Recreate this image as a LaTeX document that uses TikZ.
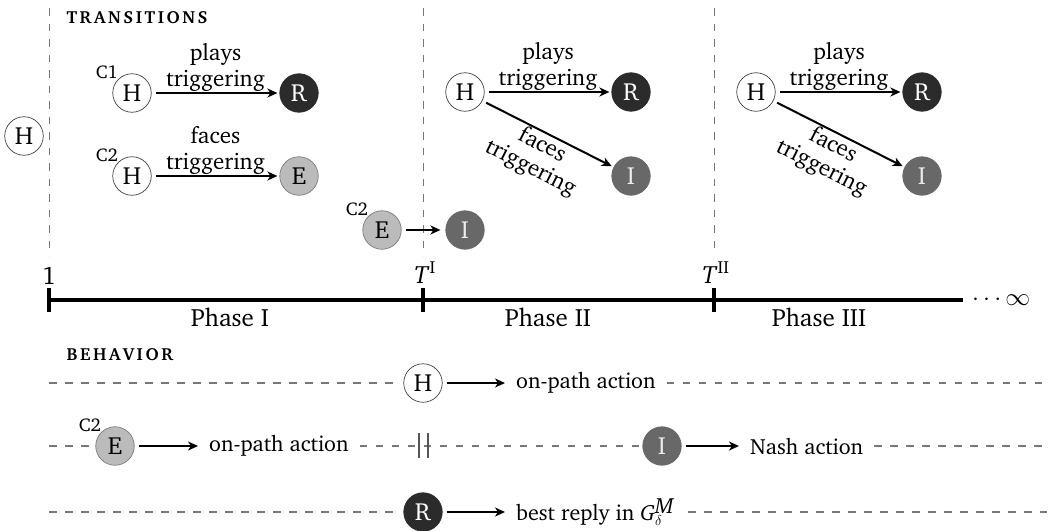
\documentclass[tikz,border=0pt]{standalone}
\usepackage[T1]{fontenc}
\usepackage{charter}
\usetikzlibrary{arrows.meta,calc}

\makeatletter
% letter-spaced capitals for the section headings
\newcommand\spacedcaps[1]{\@tfor\sc@ltr:=#1\do{\sc@ltr\kern2.6pt}}
\makeatother

\newcommand\axissize{\fontsize{25pt}{30pt}\selectfont}
\newcommand\edgesize{\fontsize{23pt}{25.5pt}\selectfont}
\newcommand\outsize{\fontsize{22pt}{26pt}\selectfont}
\newcommand\nodesize{\fontsize{24.8pt}{28pt}\selectfont}
\newcommand\tagsize{\fontsize{18.5pt}{20pt}\selectfont}
\newcommand\headsize{\fontsize{17.5pt}{20pt}\selectfont\bfseries}

\definecolor{rfill}{HTML}{2B2B2B}
\definecolor{ifill}{HTML}{686868}
\definecolor{efill}{HTML}{BBBBBB}
\definecolor{eedge}{HTML}{7A7A7A}
\definecolor{guide}{HTML}{777777}
\definecolor{barcol}{HTML}{555555}

\tikzset{
  agent/.style={circle, minimum size=38.5pt, inner sep=0pt, line width=0.7pt, font=\nodesize},
  hstate/.style={agent, draw=black!75, fill=white},
  rstate/.style={agent, draw=rfill, fill=rfill, text=white},
  istate/.style={agent, draw=ifill, fill=ifill, text=white!92!black},
  estate/.style={agent, draw=eedge, fill=efill},
  cohort/.style={label={[font=\tagsize, inner sep=0pt]135:#1}},
  move/.style={-{Stealth[length=10pt,width=9pt,inset=3pt]}, line width=2pt,
               shorten <=4pt, shorten >=2pt},
  vguide/.style={guide, line width=0.9pt, dash pattern=on 7.5pt off 8pt},
  hguide/.style={guide, line width=1.4pt, dash pattern=on 7.5pt off 8.5pt},
  axisline/.style={line width=3.8pt},
  phaselabel/.style={anchor=base, font=\axissize},
  heading/.style={anchor=west, font=\headsize},
  outcome/.style={anchor=west, inner sep=5pt, font=\outsize},
  edgetext/.style={align=center, font=\edgesize, inner sep=1pt},
}

\begin{document}
\begin{tikzpicture}[x=1pt,y=-1pt]
\useasboundingbox (0,0) rectangle (1056,530);

% ---- section headings
\node[heading] (hTr) at (63,18) {\spacedcaps{TRANSITIONS}};
\node[heading] (hBe) at (63,355) {\spacedcaps{BEHAVIOR}};

% ---- phase boundaries
\coordinate (b0top) at (49,8);   \coordinate (b0bot) at (49,256);
\coordinate (b1top) at (423,8);  \coordinate (b1bot) at (423,256);
\coordinate (b2top) at (714,8);  \coordinate (b2bot) at (714,254);
\draw[vguide] (b0top) -- (b0bot);
\draw[vguide] (b1top) -- (b1bot);
\draw[vguide] (b2top) -- (b2bot);

% ---- time axis
\coordinate (t0) at (49,300);
\coordinate (t1) at (423,300);
\coordinate (t2) at (714,300);
\coordinate (tEnd) at (963,300);
\draw[axisline] (t0) -- (tEnd);
\foreach \c in {t0,t1,t2}
  \draw[axisline] ($(\c)+(0,-12)$) -- ($(\c)+(0,12)$);
\node[phaselabel] (n1) at (49,284) {1};
\node[phaselabel] (nT1) at (425,283) {\textit{T}\textsuperscript{I}};
\node[phaselabel] (nT2) at (716,283) {\textit{T}\textsuperscript{II}};
\node[anchor=west, font=\fontsize{24pt}{28pt}\selectfont, inner sep=0pt] (inf) at (972,300) {$\cdots\infty$};
\node[phaselabel] (p1) at (230,326) {Phase I};
\node[phaselabel] (p2) at (548,326) {Phase II};
\node[phaselabel] (p3) at (819,326) {Phase III};

% ---- transitions, phase I
\node[hstate] (h0) at (24,136) {H};
\node[hstate, cohort=C1] (h1) at (132,93) {H};
\node[rstate] (r1) at (299,93) {R};
\draw[move] (h1) -- node[above, edgetext] {plays\\triggering} (r1);
\node[hstate, cohort=C2] (h2) at (132,176) {H};
\node[estate] (e1) at (299,176) {E};
\draw[move] (h2) -- node[above, edgetext] {faces\\triggering} (e1);
\node[estate, cohort=C2] (e2) at (382,230) {E};
\node[istate] (i0) at (465,230) {I};
\draw[move, shorten >=5pt] (e2) -- (i0);

% ---- transitions, phase II
\node[hstate] (h3) at (465,92) {H};
\node[rstate] (r2) at (631,92) {R};
\node[istate] (i1) at (631,176) {I};
\draw[move] (h3) -- node[above, edgetext] {plays\\triggering} (r2);
\draw[move] (h3) -- node[below, sloped, edgetext] {faces\\triggering} (i1);

% ---- transitions, phase III
\node[hstate] (h4) at (756,92) {H};
\node[rstate] (r3) at (922,92) {R};
\node[istate] (i2) at (922,176) {I};
\draw[move] (h4) -- node[above, edgetext] {plays\\triggering} (r3);
\draw[move] (h4) -- node[below, sloped, edgetext] {faces\\triggering} (i2);

% ---- behaviour, row 1
\coordinate (r1L) at (49,383);  \coordinate (r1R) at (1047,383);
\node[hstate] (bh) at (423,383) {H};
\node[outcome] (bht) at (511,383) {on-path action};
\draw[hguide, shorten >=10pt] (r1L) -- (bh);
\draw[move, shorten >=6pt] (bh) -- (bht);
\draw[hguide, shorten <=6pt] (bht) -- (r1R);

% ---- behaviour, row 2
\coordinate (r2L) at (49,446);  \coordinate (r2R) at (1047,446);
\node[estate, cohort=C2] (be) at (115,446) {E};
\node[outcome] (bet) at (204,446) {on-path action};
\node[istate] (bi) at (662,446) {I};
\node[outcome] (bit) at (745,446) {Nash action};
\draw[hguide, shorten >=6pt] (r2L) -- (be);
\draw[move, shorten >=6pt] (be) -- (bet);
\draw[hguide, shorten <=6pt, shorten >=3pt] (bet) -- (bi);
\draw[barcol, line width=1.2pt] (419,433) -- (419,458) (428,433) -- (428,458);
\draw[move, shorten >=6pt] (bi) -- (bit);
\draw[hguide, shorten <=6pt] (bit) -- (r2R);

% ---- behaviour, row 3
\coordinate (r3L) at (49,512);  \coordinate (r3R) at (1047,512);
\node[rstate] (br) at (423,512) {R};
\node[outcome] (brt) at (511,512) {best reply in \textit{G}$^{\textit{M}}_{\delta}$};
\draw[hguide, shorten >=10pt] (r3L) -- (br);
\draw[move, shorten >=6pt] (br) -- (brt);
\draw[hguide, shorten <=9pt] (brt) -- (r3R);
\end{tikzpicture}
\end{document}
